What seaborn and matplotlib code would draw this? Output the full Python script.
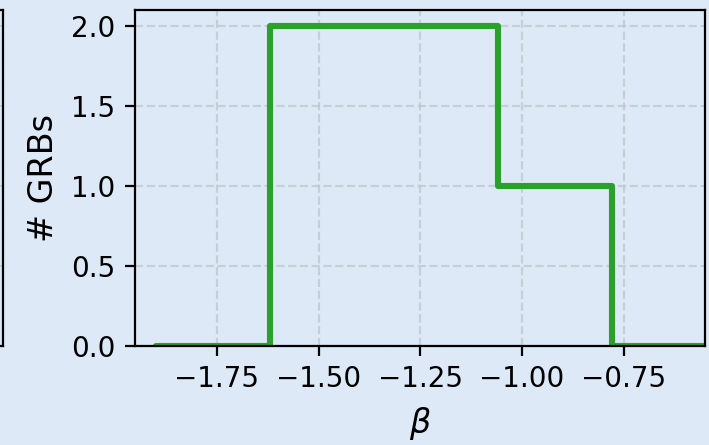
import numpy as np
import matplotlib
matplotlib.use("Agg")
import matplotlib.pyplot as plt
import seaborn as sns

# Histogram of the high-energy spectral index beta
bin_edges = [-1.899, -1.619, -1.339, -1.059, -0.779, -0.499]
grb_counts = [0, 2, 2, 1, 0]
x_ticks = [-1.75, -1.50, -1.25, -1.00, -0.75]
y_ticks = [0.0, 0.5, 1.0, 1.5, 2.0]

bg = "#dde9f6"
sns.set_style("ticks")
plt.rcParams.update({
    "font.family": ["DejaVu Sans"],
    "font.size": 10,
    "text.color": "black",
    "axes.labelcolor": "black",
    "axes.edgecolor": "black",
    "axes.linewidth": 0.8,
    "xtick.color": "black",
    "ytick.color": "black",
    "xtick.major.size": 3.5,
    "ytick.major.size": 3.5,
    "xtick.major.width": 0.8,
    "ytick.major.width": 0.8,
})

fig = plt.figure(figsize=(7.09 / 2, 4.45 / 2), dpi=200, facecolor=bg)

# neighbouring panel, only its right edge falls inside the canvas
ax_prev = fig.add_axes([-0.5, 0.2225, 0.5042, 0.755], facecolor=bg)
ax_prev.set_ylim(0, 2.1)
ax_prev.set_yticks(y_ticks)
ax_prev.grid(True, linestyle="--", color="#bfc4c9", linewidth=0.8, alpha=0.7)
ax_prev.tick_params(length=0, labelbottom=False, labelleft=False)

ax = fig.add_axes([0.1904, 0.2225, 0.8036, 0.755], facecolor=bg)
centers = [(a + b) / 2 for a, b in zip(bin_edges[:-1], bin_edges[1:])]
sns.histplot(x=centers, weights=grb_counts, bins=bin_edges, element="step",
             fill=False, color="#2ca02c", linewidth=2.2, ax=ax)
ax.set_xlim(-1.951, -0.551)
ax.set_ylim(0, 2.1)
ax.set_xticks(x_ticks)
ax.set_yticks(y_ticks)
ax.tick_params(colors="black", labelcolor="black")
ax.grid(True, linestyle="--", color="#bfc4c9", linewidth=0.8, alpha=0.7)
ax.set_axisbelow(True)
ax.set_xlabel(r"$\beta$", fontsize=12, color="black")
ax.set_ylabel("# GRBs", fontsize=12, color="black")
for s in ax.spines.values():
    s.set_visible(True)

fig.savefig("out.png", dpi=200, facecolor=bg)
